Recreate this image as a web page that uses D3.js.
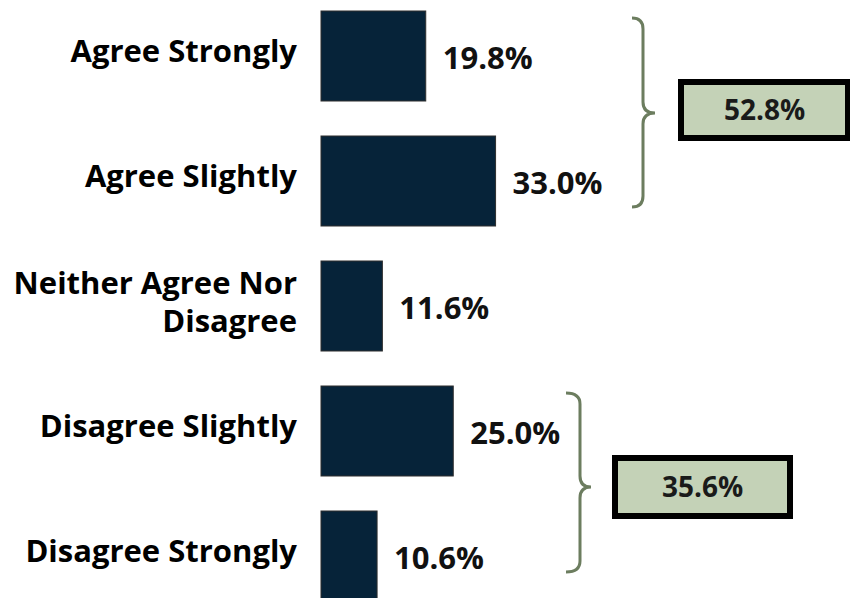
<!DOCTYPE html>
<html>
<head>
<meta charset="utf-8">
<script src="https://cdn.jsdelivr.net/npm/d3@7"></script>
<style>
  html, body { margin: 0; padding: 0; background: #ffffff; }
  svg { display: block; }
  text { font-family: "Open Sans", "Noto Sans", sans-serif; font-weight: 700; }
</style>
</head>
<body>
<svg id="chart" width="850" height="598"></svg>
<script>
// ---- data ----
const categories = ["Agree Strongly", "Agree Slightly", "Neither Agree Nor Disagree", "Disagree Slightly", "Disagree Strongly"];
const categoryLines = [["Agree Strongly"], ["Agree Slightly"], ["Neither Agree Nor", "Disagree"], ["Disagree Slightly"], ["Disagree Strongly"]];
const values = [19.8, 33.0, 11.6, 25.0, 10.6];
const groupMembers = [["Agree Strongly", "Agree Slightly"], ["Disagree Slightly", "Disagree Strongly"]];
const groupTotals = [52.8, 35.6];

// ---- layout ----
const svg = d3.select("#chart");

const x = d3.scaleLinear().domain([0, 100]).range([321, 850]);
const y = d3.scaleBand().domain(categories).range([-6.5, 618.5]).paddingInner(0.28).paddingOuter(0.14);
const fmt = v => v.toFixed(1) + "%";

// bars
svg.append("g").selectAll("rect")
  .data(categories)
  .join("rect")
  .attr("x", x(0))
  .attr("y", d => y(d))
  .attr("width", (d, i) => x(values[i]) - x(0))
  .attr("height", y.bandwidth())
  .attr("fill", "#062339")
  .attr("stroke", "#2e2e2e")
  .attr("stroke-width", 1);

// value labels
svg.append("g").selectAll("text")
  .data(categories)
  .join("text")
  .attr("x", (d, i) => x(values[i]) + 17)
  .attr("y", (d, i) => y(d) + y.bandwidth() / 2 + 13)
  .attr("font-size", 31)
  .attr("fill", "#111")
  .text((d, i) => fmt(values[i]));

// category labels (right aligned)
const lineH = 38;
svg.append("g").selectAll("text")
  .data(categories)
  .join("text")
  .attr("text-anchor", "end")
  .attr("font-size", 31)
  .attr("fill", "#000")
  .each(function(d, i) {
    const lines = categoryLines[i];
    const cy = y(d) + y.bandwidth() / 2;
    const first = cy + 6 - (lines.length - 1) * lineH / 2 + (lines.length > 1 ? 0.5 : 0);
    d3.select(this).selectAll("tspan")
      .data(lines)
      .join("tspan")
      .attr("x", 297)
      .attr("y", (l, j) => first + j * lineH)
      .text(l => l);
  });

// braces and total boxes (layout constants)
const braceSpecs = [
  { x0: 632, x1: 643, x2: 655, top: 18, bottom: 207, mid: 113, box: [678, 79, 173, 62] },
  { x0: 566, x1: 580, x2: 591, top: 393, bottom: 572, mid: 487, box: [612, 455, 181, 64] }
];
groupMembers.forEach((members, gi) => {
  const s = braceSpecs[gi];
  const r = 11;
  const p = d3.path();
  p.moveTo(s.x0, s.top);
  p.quadraticCurveTo(s.x1, s.top, s.x1, s.top + r);
  p.lineTo(s.x1, s.mid - r);
  p.quadraticCurveTo(s.x1, s.mid, s.x2, s.mid);
  p.quadraticCurveTo(s.x1, s.mid, s.x1, s.mid + r);
  p.lineTo(s.x1, s.bottom - r);
  p.quadraticCurveTo(s.x1, s.bottom, s.x0, s.bottom);
  svg.append("path")
    .attr("d", p.toString())
    .attr("fill", "none")
    .attr("stroke", "#6c7d5f")
    .attr("stroke-width", 3);

  const [bx, by, bw, bh] = s.box;
  svg.append("rect")
    .attr("x", bx + 3).attr("y", by + 3)
    .attr("width", bw - 6).attr("height", bh - 6)
    .attr("fill", "#c4d2b7")
    .attr("stroke", "#000")
    .attr("stroke-width", 6);
  svg.append("text")
    .attr("x", bx + bw / 2)
    .attr("y", by + bh / 2 + 10)
    .attr("text-anchor", "middle")
    .attr("font-size", 28)
    .attr("fill", "#1a1a1a")
    .text(fmt(groupTotals[gi]));
});
</script>
</body>
</html>
